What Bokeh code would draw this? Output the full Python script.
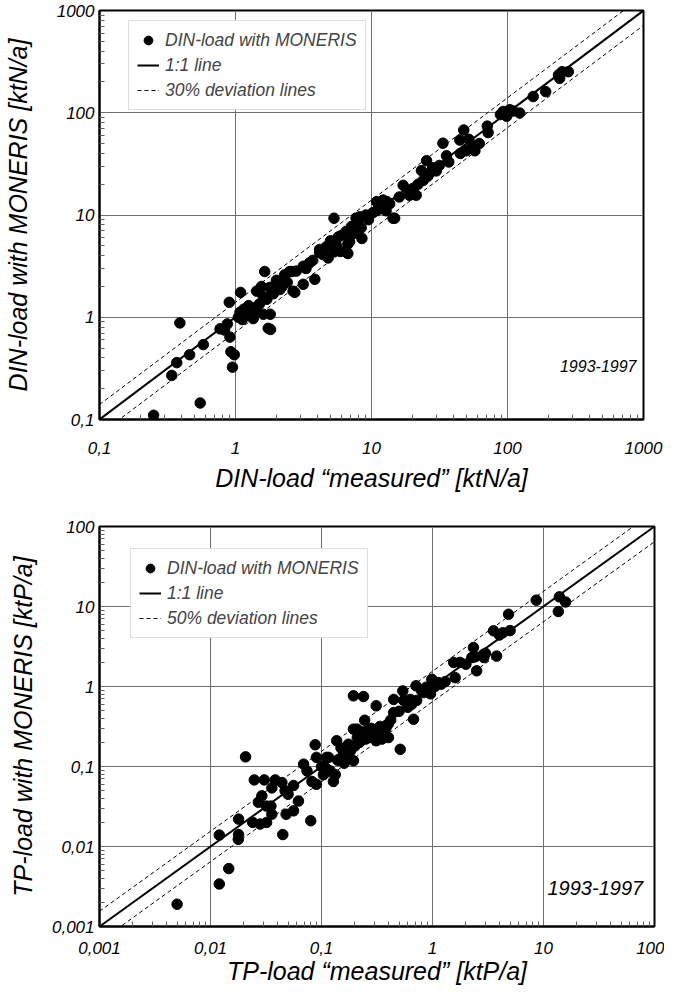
from bokeh.plotting import figure
from bokeh.layouts import column
from bokeh.models import FixedTicker, Legend, LegendItem, Label, ColumnDataSource
from bokeh.embed import file_html
from bokeh.resources import INLINE

FONT = "Liberation Sans"

# ---------------- DIN (top panel) ----------------
din_measured = [0.25, 0.55, 0.34, 0.37, 0.39, 0.46, 0.58, 0.77, 0.83, 0.87, 0.91, 0.90, 0.925, 0.98, 0.95,
                1.09, 1.08, 1.15, 1.2, 1.25, 1.3, 1.35, 1.6, 1.74, 1.81, 1.8, 1.64, 1.43, 1.55, 1.6, 1.5,
                1.79, 2.0, 2.12, 2.3, 2.6, 2.65, 2.25, 2.8, 3.15, 3.5, 3.15, 3.83, 2.73, 2.5, 2.0,
                4.15, 4.8, 5.5, 5.3, 5.9, 6.7, 6.9, 6.5, 8.2, 8.5, 7.7, 8.2, 12.2, 14.4,
                4.15, 4.65, 5.7, 7.1, 8.4, 6.5, 5.3, 8.0, 6.7,
                14.8, 10.9, 12.2, 13.6, 10.9, 12.8, 9.1, 17.1, 18.5, 20.2, 21.3, 19.0, 23.3, 24.0, 25.4,
                28.2, 31.5, 27.5, 35.6, 33.5, 44.6, 47.7, 49.8, 55.7, 62.0, 57.6, 71.0, 72.0, 93.0, 104.0,
                98.6, 123.0, 88.7, 154.5, 191.0, 242.0, 252.0, 280.0, 237.0,
                1.05, 1.12, 1.4, 1.7, 1.9, 2.2, 2.4, 3.3, 3.7, 4.4, 5.0, 6.0, 7.4, 9.5, 10.2, 11.5, 13.0,
                16.0, 22.0, 26.0, 30.0, 37.0, 45.0, 52.0, 100.0, 110.0]
din_moneris = [0.11, 0.145, 0.27, 0.36, 0.88, 0.43, 0.54, 0.77, 0.75, 0.86, 0.64, 1.40, 0.46, 0.43, 0.325,
               1.75, 1.12, 1.2, 1.05, 1.3, 1.1, 0.97, 1.07, 0.78, 0.76, 1.07, 2.8, 1.8, 2.0, 1.6, 1.35,
               1.96, 2.15, 1.87, 2.6, 2.8, 1.8, 2.3, 2.83, 3.15, 3.4, 2.1, 2.35, 1.75, 2.8, 2.3,
               4.3, 3.8, 5.1, 9.3, 4.4, 4.2, 5.5, 6.9, 7.5, 5.9, 9.3, 9.6, 11.5, 9.3,
               4.6, 4.9, 6.1, 7.7, 7.5, 4.4, 4.4, 9.3, 5.2,
               9.3, 13.5, 14.0, 12.9, 11.0, 11.0, 10.0, 19.5, 17.5, 18.2, 15.6, 15.6, 27.2, 21.8, 34.0,
               29.0, 30.5, 26.5, 38.0, 50.4, 54.0, 67.8, 42.5, 47.5, 50.0, 42.5, 74.0, 64.0, 103.0, 107.0,
               92.5, 99.5, 96.0, 144.0, 161.0, 217.0, 252.0, 252.0, 234.0,
               1.0, 0.95, 1.15, 1.5, 1.7, 2.0, 2.2, 3.0, 3.6, 4.1, 5.6, 6.3, 6.6, 9.0, 10.5, 12.0, 13.5,
               15.0, 20.0, 24.0, 27.0, 33.0, 40.0, 55.0, 100.0, 104.0]
din_ticks = [0.1, 1, 10, 100, 1000]
din_tick_labels = ["0,1", "1", "10", "100", "1000"]
din_range = (0.1, 1000)
din_deviation = 1.4
din_period = "1993-1997"

# ---------------- TP (bottom panel) ----------------
tp_measured = [0.005, 0.012, 0.0146, 0.012, 0.0179, 0.0179, 0.0178, 0.0207, 0.0248, 0.0305, 0.0383, 0.044,
               0.0357, 0.024, 0.028, 0.032, 0.0357, 0.035, 0.029, 0.027, 0.032, 0.0448, 0.048, 0.056, 0.062,
               0.050, 0.056, 0.047, 0.069, 0.0877, 0.080, 0.09, 0.074, 0.09, 0.082, 0.104, 0.116,
               0.128, 0.12, 0.137, 0.111, 0.194, 0.194, 0.239, 0.311, 0.245, 0.21, 0.256, 0.294, 0.336,
               0.401, 0.311, 0.512, 0.447, 0.5, 0.447, 0.54, 0.675, 0.71, 0.63, 0.72, 0.8, 0.96, 0.986,
               0.96, 1.13, 1.2, 1.55, 1.6, 1.77, 2.34, 2.42, 2.26, 2.5, 2.9, 2.86, 3.78, 3.55, 4.3, 4.0,
               5.0, 4.84, 8.6, 13.9, 15.8, 13.6,
               0.133, 0.158, 0.182, 0.194, 0.23, 0.175, 0.21, 0.27, 0.35, 0.40, 0.55, 0.83, 0.88,
               0.1, 0.11, 0.14, 0.15, 0.16, 0.17, 0.2, 0.22, 0.25, 0.28, 0.3, 0.33, 0.38, 0.42, 0.6, 0.65,
               1.05, 1.3, 2.0, 3.0]
tp_moneris = [0.0019, 0.0034, 0.0053, 0.0139, 0.022, 0.0141, 0.0123, 0.132, 0.068, 0.068, 0.068, 0.063,
              0.054, 0.020, 0.0191, 0.020, 0.0253, 0.032, 0.043, 0.0357, 0.032, 0.0141, 0.0253, 0.0279, 0.037,
              0.045, 0.0579, 0.0497, 0.107, 0.187, 0.021, 0.13, 0.088, 0.06, 0.065, 0.079, 0.13,
              0.065, 0.088, 0.21, 0.13, 0.118, 0.765, 0.75, 0.574, 0.379, 0.293, 0.28, 0.27, 0.317,
              0.23, 0.21, 0.164, 0.473, 0.49, 0.69, 0.88, 0.39, 1.02, 0.69, 0.67, 0.88, 0.81, 1.23,
              1.02, 1.12, 1.07, 2.0, 1.29, 2.0, 3.07, 2.35, 2.3, 1.57, 2.3, 2.5, 2.4, 4.97, 4.7, 4.4,
              5.0, 8.0, 12.0, 13.2, 11.4, 8.66,
              0.079, 0.14, 0.156, 0.293, 0.27, 0.19, 0.23, 0.23, 0.22, 0.34, 0.67, 0.84, 0.98,
              0.1, 0.095, 0.12, 0.17, 0.11, 0.14, 0.18, 0.2, 0.22, 0.3, 0.25, 0.28, 0.3, 0.38, 0.55, 0.6,
              1.0, 1.15, 1.9, 2.6]
tp_ticks = [0.001, 0.01, 0.1, 1, 10, 100]
tp_tick_labels = ["0,001", "0,01", "0,1", "1", "10", "100"]
tp_range = (0.001, 100)
tp_deviation = 1.55
tp_period = "1993-1997"


def minor_ticks(ticks):
    out = []
    for t in ticks[:-1]:
        for m in range(2, 10):
            out.append(t * m)
    return out


def make_panel(xs, ys, ticks, tick_labels, rng, dev, x_title, y_title, legend_labels, period,
               period_pos, period_size, frame_w, frame_h, borders, legend_loc,
               ylab_standoff, xlab_standoff, xtick_standoff):
    bl, br, bt, bb = borders
    p = figure(x_axis_type="log", y_axis_type="log", x_range=rng, y_range=rng,
               frame_width=frame_w, frame_height=frame_h,
               min_border_left=bl, min_border_right=br, min_border_top=bt, min_border_bottom=bb,
               output_backend="svg", toolbar_location=None)
    p.background_fill_color = "white"
    p.border_fill_color = "white"
    p.outline_line_color = "black"
    p.outline_line_width = 2

    lo, hi = rng
    line_x = [lo, hi]
    src_line = ColumnDataSource(dict(x=line_x, y=line_x))
    src_up = ColumnDataSource(dict(x=line_x, y=[v * dev for v in line_x]))
    src_dn = ColumnDataSource(dict(x=line_x, y=[v / dev for v in line_x]))

    r_up = p.line("x", "y", source=src_up, line_color="black", line_width=1, line_dash="4 3")
    p.line("x", "y", source=src_dn, line_color="black", line_width=1, line_dash="4 3")
    r_one = p.line("x", "y", source=src_line, line_color="black", line_width=2)
    r_pts = p.scatter(xs, ys, size=10.5, marker="circle", fill_color="black", line_color="black")

    for ax, standoff in ((p.xaxis, xlab_standoff), (p.yaxis, ylab_standoff)):
        ax.ticker = FixedTicker(ticks=ticks, minor_ticks=minor_ticks(ticks))
        ax.major_label_overrides = {t: l for t, l in zip(ticks, tick_labels)}
        ax.axis_line_color = "black"
        ax.axis_line_width = 2
        ax.major_tick_in = 0
        ax.major_tick_out = 0
        ax.minor_tick_in = 5
        ax.minor_tick_out = 0
        ax.minor_tick_line_color = "#606060"
        ax.minor_tick_line_width = 1
        ax.major_label_text_font = FONT
        ax.major_label_text_font_style = "italic"
        ax.major_label_text_font_size = "17px"
        ax.major_label_text_color = "black"
        ax.axis_label_text_font = FONT
        ax.axis_label_text_font_style = "italic"
        ax.axis_label_text_font_size = "25px"
        ax.axis_label_text_color = "black"
        ax.axis_label_standoff = standoff
    p.xaxis.major_label_standoff = xtick_standoff
    p.yaxis.major_label_standoff = 5
    p.xaxis.axis_label = x_title
    p.yaxis.axis_label = y_title

    for g in (p.xgrid, p.ygrid):
        g.ticker = FixedTicker(ticks=ticks)
        g.grid_line_color = "#6e6e6e"
        g.grid_line_width = 1

    legend = Legend(items=[
        LegendItem(label=legend_labels[0], renderers=[r_pts]),
        LegendItem(label=legend_labels[1], renderers=[r_one]),
        LegendItem(label=legend_labels[2], renderers=[r_up]),
    ], location=legend_loc)
    legend.label_text_font = FONT
    legend.label_text_font_style = "italic"
    legend.label_text_font_size = "17.5px"
    legend.border_line_color = "#bdbdbd"
    legend.border_line_width = 1
    legend.background_fill_color = "white"
    legend.background_fill_alpha = 1
    legend.padding = 8
    legend.spacing = 3
    legend.glyph_width = 22
    legend.glyph_height = 22
    legend.label_standoff = 6
    legend.margin = 0
    p.add_layout(legend)

    p.add_layout(Label(x=period_pos[0], y=period_pos[1], text=period, text_align="right",
                       text_baseline="middle", text_font=FONT, text_font_style="italic",
                       text_font_size=period_size, text_color="black"))
    return p


p1 = make_panel(din_measured, din_moneris, din_ticks, din_tick_labels, din_range, din_deviation,
                "DIN-load \u201cmeasured\u201d [ktN/a]", "DIN-load with MONERIS [ktN/a]",
                ["DIN-load with MONERIS", "1:1 line", "30% deviation lines"],
                din_period, (888, 0.33), "16px", 544, 409, (94, 20, 10, 70), (29, 309), 22, 7, 22)
p2 = make_panel(tp_measured, tp_moneris, tp_ticks, tp_tick_labels, tp_range, tp_deviation,
                "TP-load \u201cmeasured\u201d [ktP/a]", "TP-load with MONERIS [ktP/a]",
                ["DIN-load with MONERIS", "1:1 line", "50% deviation lines"],
                tp_period, (79, 0.003), "20px", 555, 400, (88, 15, 32, 40), (31, 288), 12, 0, 15)

layout = column(p1, p2, spacing=0)
open("out.html", "w").write(file_html(layout, INLINE))
